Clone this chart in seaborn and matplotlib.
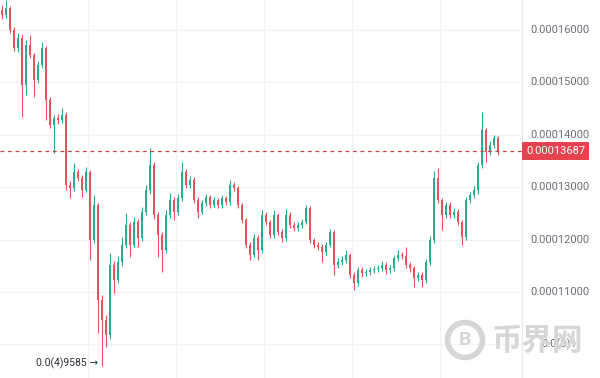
import matplotlib
matplotlib.use("Agg")
import matplotlib.pyplot as plt
import matplotlib.transforms as mtransforms
from matplotlib.patches import Ellipse
import seaborn as sns
import pandas as pd

sns.set_theme(style="white")
plt.rcParams['font.family'] = ['Roboto', 'DejaVu Sans']

# prices in units of 1e-8
opens = [16380, 16290, 16420, 16000, 15660, 15850, 14950, 15710, 15520, 15050,
         15330, 15660, 14660, 14190, 14320, 14280, 14380, 13040, 12990, 13290,
         13180, 12950, 13290, 11990, 12660, 10850, 10470, 10180, 11520, 11230,
         11570, 11900, 12280, 11900, 12340, 12030, 12530, 12950, 13420, 12470,
         12090, 11800, 12470, 12760, 12530, 12790, 13290, 13040, 13140, 12760,
         12530, 12700, 12810, 12660, 12760, 12660, 12790, 12720, 13040, 12990,
         12660, 12380, 11900, 11710, 12030, 11800, 12470, 12340, 12090, 12470,
         12150, 12030, 12470, 12280, 12220, 12280, 12340, 12600, 11990, 11900,
         11860, 11760, 11900, 12150, 11520, 11570, 11610, 11710, 11330, 11170,
         11420, 11360, 11380, 11420, 11440, 11460, 11520, 11420, 11460, 11650,
         11710, 11690, 11520, 11460, 11270, 11330, 11230, 11570, 11990, 13180,
         12760, 12470, 12660, 12470, 12530, 12340, 12050, 12760, 12850, 12950,
         13420, 14090, 13670, 13810, 13940]
closes = [16290, 16420, 16000, 15660, 15850, 14950, 15710, 15520, 15050, 15330,
          15660, 14660, 14190, 14320, 14280, 14380, 13040, 12990, 13290, 13180,
          12950, 13290, 11990, 12660, 10850, 10470, 10180, 11520, 11230, 11570,
          11900, 12280, 11900, 12340, 12030, 12530, 12950, 13420, 12470, 12090,
          11800, 12470, 12760, 12530, 12790, 13290, 13040, 13140, 12760, 12530,
          12700, 12810, 12660, 12760, 12660, 12790, 12720, 13040, 12990, 12660,
          12380, 11900, 11710, 12030, 11800, 12470, 12340, 12090, 12470, 12150,
          12030, 12470, 12280, 12220, 12280, 12340, 12600, 11990, 11900, 11860,
          11760, 11900, 12150, 11520, 11570, 11610, 11710, 11330, 11170, 11420,
          11360, 11380, 11420, 11440, 11460, 11520, 11420, 11460, 11650, 11710,
          11690, 11520, 11460, 11270, 11330, 11230, 11570, 11990, 13180, 12760,
          12470, 12660, 12470, 12530, 12340, 12050, 12760, 12850, 12950, 13420,
          14090, 13670, 13810, 13940, 13687]
highs = [16480, 16570, 16460, 16050, 15940, 15900, 15810, 15900, 15560, 15400,
         15770, 15700, 14720, 14380, 14400, 14510, 14430, 13120, 13460, 13350,
         13230, 13390, 13330, 12850, 12700, 10950, 10560, 11750, 11600, 11680,
         12050, 12510, 12330, 12430, 12400, 12620, 13040, 13750, 13480, 12530,
         12150, 12560, 12890, 12820, 12870, 13480, 13350, 13220, 13190, 12810,
         12760, 12880, 12860, 12810, 12800, 12850, 12840, 13140, 13100, 13030,
         12700, 12420, 11960, 12100, 12080, 12570, 12520, 12380, 12570, 12510,
         12200, 12590, 12520, 12340, 12340, 12400, 12660, 12640, 12040, 11950,
         11920, 11960, 12200, 12190, 11640, 11680, 11800, 11740, 11380, 11480,
         11470, 11440, 11480, 11500, 11520, 11590, 11570, 11510, 11710, 11800,
         11760, 11860, 11570, 11500, 11390, 11380, 11630, 12060, 13300, 13370,
         12800, 12720, 12710, 12600, 12580, 12380, 12820, 12910, 13020, 13480,
         14440, 14130, 13880, 14000, 13980]
lows = [16200, 16230, 15940, 15600, 15580, 14340, 14760, 15460, 14720, 14990,
        15270, 14280, 14130, 13650, 14200, 14220, 12950, 12790, 12930, 13110,
        12810, 12900, 11610, 11930, 10220, 9585, 9950, 10110, 10980, 11170,
        11500, 11840, 11670, 11850, 11860, 11970, 12470, 12880, 12400, 11670,
        11380, 11740, 12410, 12380, 12470, 12730, 12980, 12990, 12700, 12410,
        12480, 12640, 12600, 12620, 12600, 12610, 12660, 12670, 12930, 12600,
        12320, 11840, 11610, 11660, 11610, 11745, 12280, 12030, 12030, 12090,
        11955, 11980, 12220, 12160, 12170, 12230, 12290, 11930, 11840, 11800,
        11575, 11700, 11850, 11325, 11460, 11510, 11560, 11260, 11040, 11110,
        11290, 11300, 11320, 11360, 11380, 11400, 11350, 11370, 11400, 11590,
        11630, 11460, 11390, 11100, 11210, 11100, 11170, 11510, 11930, 12700,
        12180, 12410, 12410, 12420, 12280, 11900, 11990, 12700, 12790, 12880,
        13360, 13480, 13610, 13740, 13620]

tick_values = [11000, 12000, 13000, 14000, 15000, 16000]
tick_labels = ["0.00011000", "0.00012000", "0.00013000", "0.00014000", "0.00015000", "0.00016000"]
extra_tick_value = 10000
extra_tick_label = "0.0(3)1"
last_price_label = "0.00013687"
low_label = "0.0(4)9585 \u2192"
watermark = "币界网"

SCALE = 1e-8
df = pd.DataFrame({"open": opens, "high": highs, "low": lows, "close": closes}) * SCALE
df["idx"] = range(len(df))
df["up"] = df["close"] >= df["open"]

GREEN = "#2bab8f"
RED = "#e8525a"
colors = [GREEN if u else RED for u in df["up"]]

fig = plt.figure(figsize=(6, 3.78), dpi=100)
ax = fig.add_axes([0, 0, 522 / 600, 1])
ax.set_facecolor("white")
ax.set_xlim(-0.5, 130)
ax.set_ylim(9360 * SCALE, 16572 * SCALE)

# grid
for v in tick_values + [extra_tick_value]:
    ax.axhline(v * SCALE, color="#f1f3f8", lw=0.9, zorder=0)
for gx in [21.5, 43.5, 65.5, 87.5, 109.5]:
    ax.axvline(gx, color="#f1f3f8", lw=0.9, zorder=0)

# candles
ax.vlines(df["idx"], df["low"], df["high"], colors=colors, linewidth=0.8, zorder=2)
body_bottom = df[["open", "close"]].min(axis=1)
body_h = (df["close"] - df["open"]).abs().clip(lower=1.6e-7)
ax.bar(df["idx"], body_h, bottom=body_bottom, width=0.52, color=colors, linewidth=0, zorder=3)

# last price dashed line
last = df["close"].iloc[-1]
ax.axhline(last, color="#c9404b", lw=0.9, ls=(0, (3, 3)), zorder=4)

sns.despine(ax=ax, left=True, bottom=True, top=True, right=False)
ax.spines["right"].set_color("#e6e8ee")
ax.spines["right"].set_linewidth(0.8)
ax.set_xticks([])
ax.set_yticks([])

trans = mtransforms.blended_transform_factory(ax.transAxes, ax.transData)
for v, lab in zip(tick_values, tick_labels):
    ax.text(530 / 522, v * SCALE, lab, transform=trans, ha="left", va="center",
            fontsize=8, color="#6b6e79", clip_on=False)

# watermark
fig.text(492 / 600, 1 - 341 / 378, watermark, fontsize=22, color="#d6d6d6",
         family=["Noto Sans CJK SC", "DejaVu Sans"], weight="bold", ha="left", va="center", zorder=1)
ring = Ellipse((465 / 600, 1 - 340 / 378), 35 / 600, 35 / 378, transform=fig.transFigure,
               fill=False, edgecolor="#d6d6d6", linewidth=4, zorder=1)
fig.patches.append(ring)
fig.text(465 / 600, 1 - 340 / 378, "B", fontsize=14, color="#d6d6d6", weight="bold",
         ha="center", va="center", zorder=1)

ax.text(541 / 522, extra_tick_value * SCALE, extra_tick_label, transform=trans, ha="left",
        va="center", fontsize=8, color="#6b6e79", clip_on=False, zorder=5)

# last price box
ax.text(526 / 522, last, last_price_label, transform=trans, ha="left", va="center",
        fontsize=8, color="white", clip_on=False, zorder=6,
        bbox=dict(boxstyle="square,pad=0.35", facecolor="#e5434f", edgecolor="none"))

# lowest price label
low_i = int(df["low"].idxmin())
ax.text(low_i - 1, df["low"].min(), low_label, ha="right", va="baseline",
        fontsize=7.5, color="#2a2e39", zorder=6)

fig.savefig("out.png", dpi=100)
